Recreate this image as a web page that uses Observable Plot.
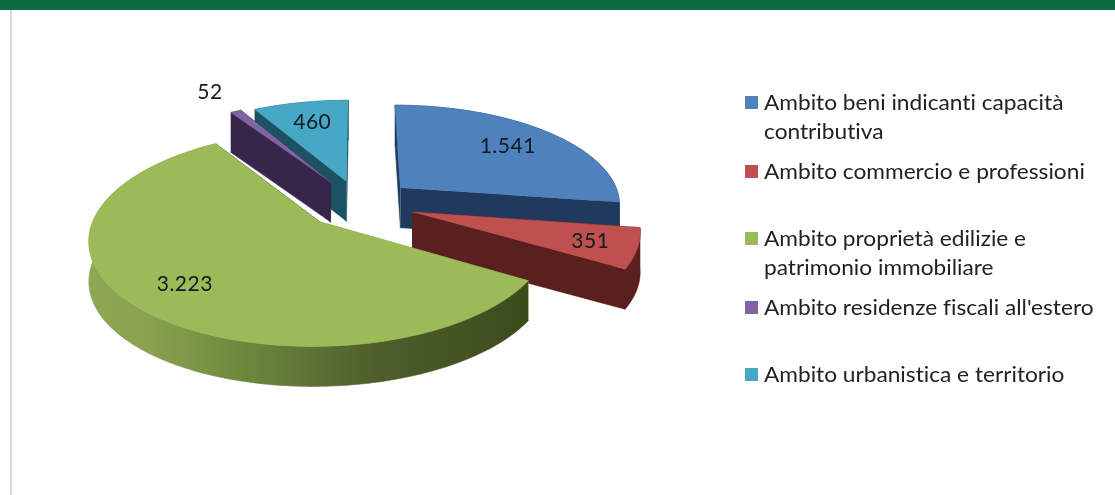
<!DOCTYPE html>
<html><head><meta charset="utf-8">
<script src="https://cdn.jsdelivr.net/npm/d3@7"></script>
<script src="https://cdn.jsdelivr.net/npm/@observablehq/plot@0.6"></script>
<style>
html,body{margin:0;padding:0;background:#fff;width:1115px;height:495px;overflow:hidden;font-family:Lato,sans-serif;font-variant-ligatures:none}
#topbar{position:absolute;left:0;top:0;width:1115px;height:10px;background:#0b6b41}
#edge{position:absolute;left:10px;top:10px;width:2px;height:485px;background:#d8d8d8}
#chart{position:absolute;left:0;top:0;filter:blur(0.4px)}
#chart svg text{letter-spacing:.5px}
#legend{position:absolute;left:745px;top:0;width:370px;height:495px;color:#222;font-size:21px;line-height:28.5px;filter:blur(0.3px)}
.item{position:absolute;left:0;white-space:nowrap}
.item i{position:absolute;left:0;top:8px;width:13px;height:13px}
.item span{display:block;margin-left:19px;transform:scaleX(1.08);transform-origin:0 50%}
</style></head><body>
<div id="chart"></div><div id="legend"></div><div id="topbar"></div><div id="edge"></div>
<script>
const categories = ["Ambito beni indicanti capacità contributiva","Ambito commercio e professioni","Ambito proprietà edilizie e patrimonio immobiliare","Ambito residenze fiscali all'estero","Ambito urbanistica e territorio"];
const legendLines = [["Ambito beni indicanti capacità","contributiva"],["Ambito commercio e professioni"],["Ambito proprietà edilizie e","patrimonio immobiliare"],["Ambito residenze fiscali all'estero"],["Ambito urbanistica e territorio"]];
const values = [1541,351,3223,52,460];
const valueLabels = ["1.541","351","3.223","52","460"];
const topColors = ["#4f81bd","#c0504d","#9bbb59","#8064a2","#46a8c4"];
const wallColors = ["#1f3a5c","#5a1f1f","url(#greenRim)","#38264a","#1c5263"];
const labelRadius = [0.72,0.8,0.76,1.32,0.72];
const legendTops = [88,157,224,293,360];
const paintOrder = [0,4,3,1,2];
const explodeBy = [0.25,0.25,0.25,0.26,0.24];
const rimStops = [["0%","#8da753"],["13%","#8aa250"],["34%","#6e8a3e"],["65%","#4e5f2b"],["100%","#3c4b1c"]];

const cx=359, cy=203, R=221, k=0.45, p=0.152, depth=40;
const total=d3.sum(values);
const project=(a,r,off,e,dz=0)=>{
  const u=Math.sin(a)*r+Math.sin(off)*e, v=-Math.cos(a)*r-Math.cos(off)*e;
  const s=1/(1-p*v);
  return {x:cx+R*u*s, y:cy+R*k*v*s+dz};
};
const slices=[]; let acc=0;
values.forEach((val,i)=>{const a0=acc/total*2*Math.PI; acc+=val; const a1=acc/total*2*Math.PI; slices.push({i,a0,a1,mid:(a0+a1)/2});});

const polys=[]; let pid=0;
const addPoly=(pts,color)=>{pid++; pts.forEach(q=>polys.push({x:q.x,y:q.y,id:pid,color}));};
paintOrder.forEach(i=>{
  const s=slices[i], m=s.mid, e=explodeBy[i], n=Math.max(2,Math.ceil((s.a1-s.a0)/0.02));
  const angles=d3.range(n+1).map(j=>s.a0+(s.a1-s.a0)*j/n);
  const apex=project(0,0,m,e), apexB=project(0,0,m,e,depth);
  const wall=i===2?"#4a5a28":wallColors[i];
  for(const a of [s.a0,s.a1]) addPoly([apex,project(a,1,m,e),project(a,1,m,e,depth),apexB],i===2&&a===s.a0?"#8da753":wall);
  addPoly([...angles.map(a=>project(a,1,m,e)),...angles.slice().reverse().map(a=>project(a,1,m,e,depth))],wallColors[i]);
  addPoly([apex,...angles.map(a=>project(a,1,m,e))],topColors[i]);
});
const labels=slices.map(s=>({...project(s.mid,labelRadius[s.i],s.mid,explodeBy[s.i]),t:valueLabels[s.i]}));

const chart=Plot.plot({
  width:740,height:495,margin:0,
  x:{domain:[0,740],axis:null},y:{domain:[495,0],axis:null},
  color:{type:"identity"},
  marks:[
    Plot.line(polys,{x:"x",y:"y",z:"id",fill:"color",stroke:"color",strokeWidth:0.6,curve:"linear"}),
    Plot.text(labels,{x:"x",y:"y",text:"t",fontSize:21,fontFamily:"Lato",fill:"#111a22"})
  ]
});
const defs=d3.select(chart).insert("defs",":first-child");
const grad=defs.append("linearGradient").attr("id","greenRim").attr("gradientUnits","userSpaceOnUse").attr("x1",89).attr("x2",525).attr("y1",0).attr("y2",0);
rimStops.forEach(([o,c])=>grad.append("stop").attr("offset",o).attr("stop-color",c));
document.getElementById("chart").appendChild(chart);

const lg=document.getElementById("legend");
legendLines.forEach((lines,i)=>{
  const d=document.createElement("div"); d.className="item"; d.style.top=legendTops[i]+"px";
  const sw=document.createElement("i"); sw.style.background=topColors[i]; d.appendChild(sw);
  lines.forEach(l=>{ const t=document.createElement("span"); t.textContent=l; d.appendChild(t); });
  lg.appendChild(d);
});
</script></body></html>
